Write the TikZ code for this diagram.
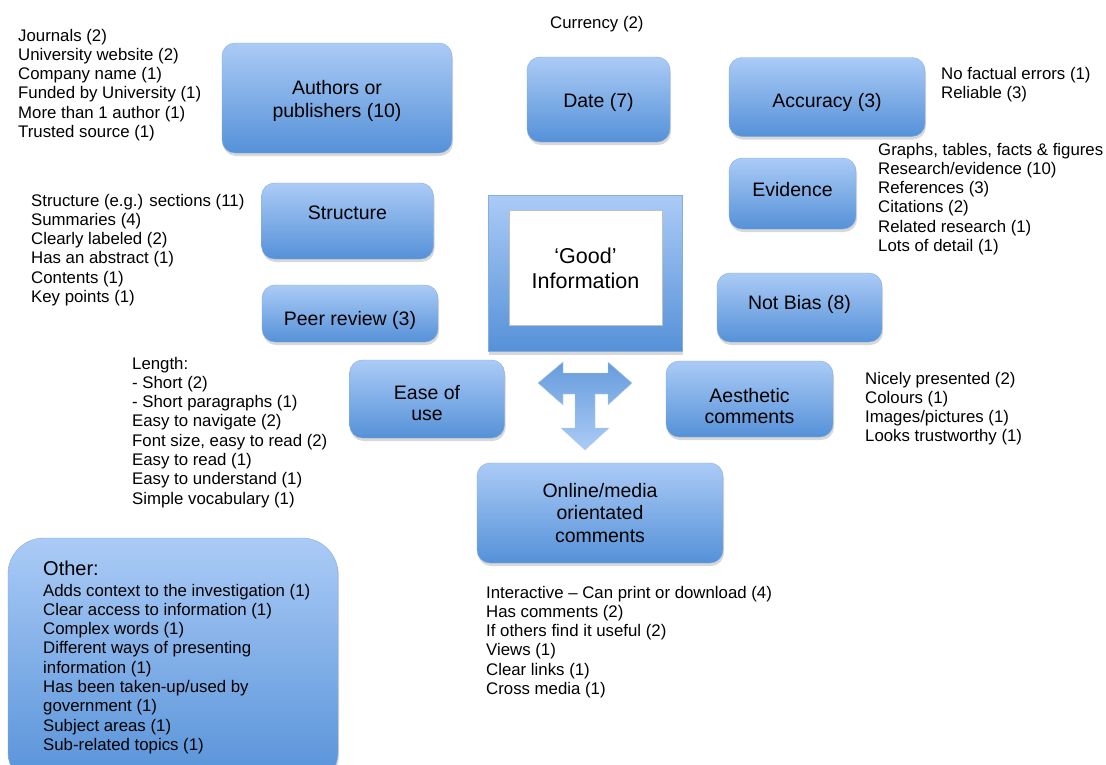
\documentclass[tikz,border=0pt]{standalone}
\usepackage{fontspec}
\setmainfont{Liberation Sans}
\usetikzlibrary{shadows, positioning}
\definecolor{boxtop}{HTML}{ABCBF6}
\definecolor{boxbottom}{HTML}{5591D8}
\definecolor{boxedge}{HTML}{86ADE0}
\tikzstyle{topic} = [rectangle, rounded corners=13pt, draw=boxedge, top color=boxtop, bottom color=boxbottom, drop shadow={shadow xshift=1pt, shadow yshift=-3pt, opacity=0.3}, align=center, inner sep=0pt, font=\fontsize{19.5}{23}\selectfont]
\tikzstyle{frame} = [rectangle, draw=boxedge, top color=boxtop, bottom color=boxbottom, drop shadow={shadow xshift=1pt, shadow yshift=-3pt, opacity=0.3}, inner sep=0pt]
\tikzstyle{notes} = [anchor=base west, align=left, inner sep=0pt, font=\fontsize{16.8}{19.3}\selectfont]

\begin{document}
\begin{tikzpicture}[x=1pt, y=-1pt]
			\useasboundingbox (0,0) rectangle (1106,764);
			\fill[white] (0,0) rectangle (1106,764);

			\node (authors) [topic, minimum width=230pt, minimum height=110pt, text height=43pt] at (337,98) {Authors or\\publishers (10)};
			\node (date) [topic, minimum width=143pt, minimum height=85pt, text height=20pt] at (598.5,99.5) {Date (7)};
			\node (accuracy) [topic, minimum width=196pt, minimum height=79pt, text height=25pt, text depth=4pt] at (827,97) {Accuracy (3)};
			\node (evidence) [topic, minimum width=127pt, minimum height=71pt, text depth=9pt] at (792.5,193.5) {Evidence};
			\node (structure) [topic, minimum width=172pt, minimum height=76pt, text depth=16pt] at (347.5,221) {Structure};
			\node (peer) [topic, minimum width=176pt, minimum height=57pt, text height=27pt, text depth=4pt] at (350,313.5) {Peer review (3)};
			\node (bias) [topic, minimum width=165pt, minimum height=69pt, text depth=10pt] at (799.5,307.5) {Not Bias (8)};
			\node (ease) [topic, minimum width=155pt, minimum height=78pt, font=\fontsize{19.5}{21}\selectfont, text height=43pt] at (427,399) {Ease of\\use};
			\node (aesthetic) [topic, minimum width=167pt, minimum height=76pt, font=\fontsize{19.5}{21}\selectfont, text height=50pt] at (749.5,399) {Aesthetic\\comments};
			\node (online) [topic, minimum width=246pt, minimum height=100pt, font=\fontsize{19.5}{22.5}\selectfont] at (600,513) {Online/media\\orientated\\comments};
			\node (other) [topic, rounded corners=36pt, minimum width=330pt, minimum height=250pt] at (173,663) {};

			\node (frame) [frame, minimum width=194pt, minimum height=156pt] at (585,273.5) {};
			\node (good) [rectangle, fill=white, draw=black!25, minimum width=153pt, minimum height=115pt, align=center, font=\fontsize{21.5}{25}\selectfont] at (585.5,268) {‘Good’\\Information};

			\shade[top color=boxbottom!90, bottom color=boxtop, draw=boxedge!60] (538,383) -- (563,362) -- (563,373) -- (608,373) -- (608,362) -- (632,383) -- (608,405) -- (608,394) -- (595,394) -- (595,428) -- (609,428) -- (585,450) -- (561,428) -- (575,428) -- (575,394) -- (563,394) -- (563,405) -- cycle;

			\node (currency) [notes] at (550,28) {Currency (2)};
			\node (authorsnotes) [notes] at (18,137.5) {Journals (2)\\University website (2)\\Company name (1)\\Funded by University (1)\\More than 1 author (1)\\Trusted source (1)};
			\node (accuracynotes) [notes] at (941,98.3) {No factual errors (1)\\Reliable (3)};
			\node (evidencenotes) [notes] at (878,251.5) {Graphs, tables, facts \& figures\\Research/evidence (10)\\References (3)\\Citations (2)\\Related research (1)\\Lots of detail (1)};
			\node (structurenotes) [notes] at (31,302.5) {Structure (e.g.) sections (11)\\Summaries (4)\\Clearly labeled (2)\\Has an abstract (1)\\Contents (1)\\Key points (1)};
			\node (easenotes) [notes] at (132,504.1) {Length:\\- Short (2)\\- Short paragraphs (1)\\Easy to navigate (2)\\Font size, easy to read (2)\\Easy to read (1)\\Easy to understand (1)\\Simple vocabulary (1)};
			\node (aestheticnotes) [notes] at (865,441.9) {Nicely presented (2)\\Colours (1)\\Images/pictures (1)\\Looks trustworthy (1)};
			\node (onlinenotes) [notes] at (486,694.5) {Interactive – Can print or download (4)\\Has comments (2)\\If others find it useful (2)\\Views (1)\\Clear links (1)\\Cross media (1)};
			\node (othertitle) [notes, font=\fontsize{20}{23}\selectfont] at (43,575) {Other:};
			\node (othernotes) [notes] at (43,750.4) {Adds context to the investigation (1)\\Clear access to information (1)\\Complex words (1)\\Different ways of presenting\\information (1)\\Has been taken-up/used by\\government (1)\\Subject areas (1)\\Sub-related topics (1)};
		\end{tikzpicture}
\end{document}
